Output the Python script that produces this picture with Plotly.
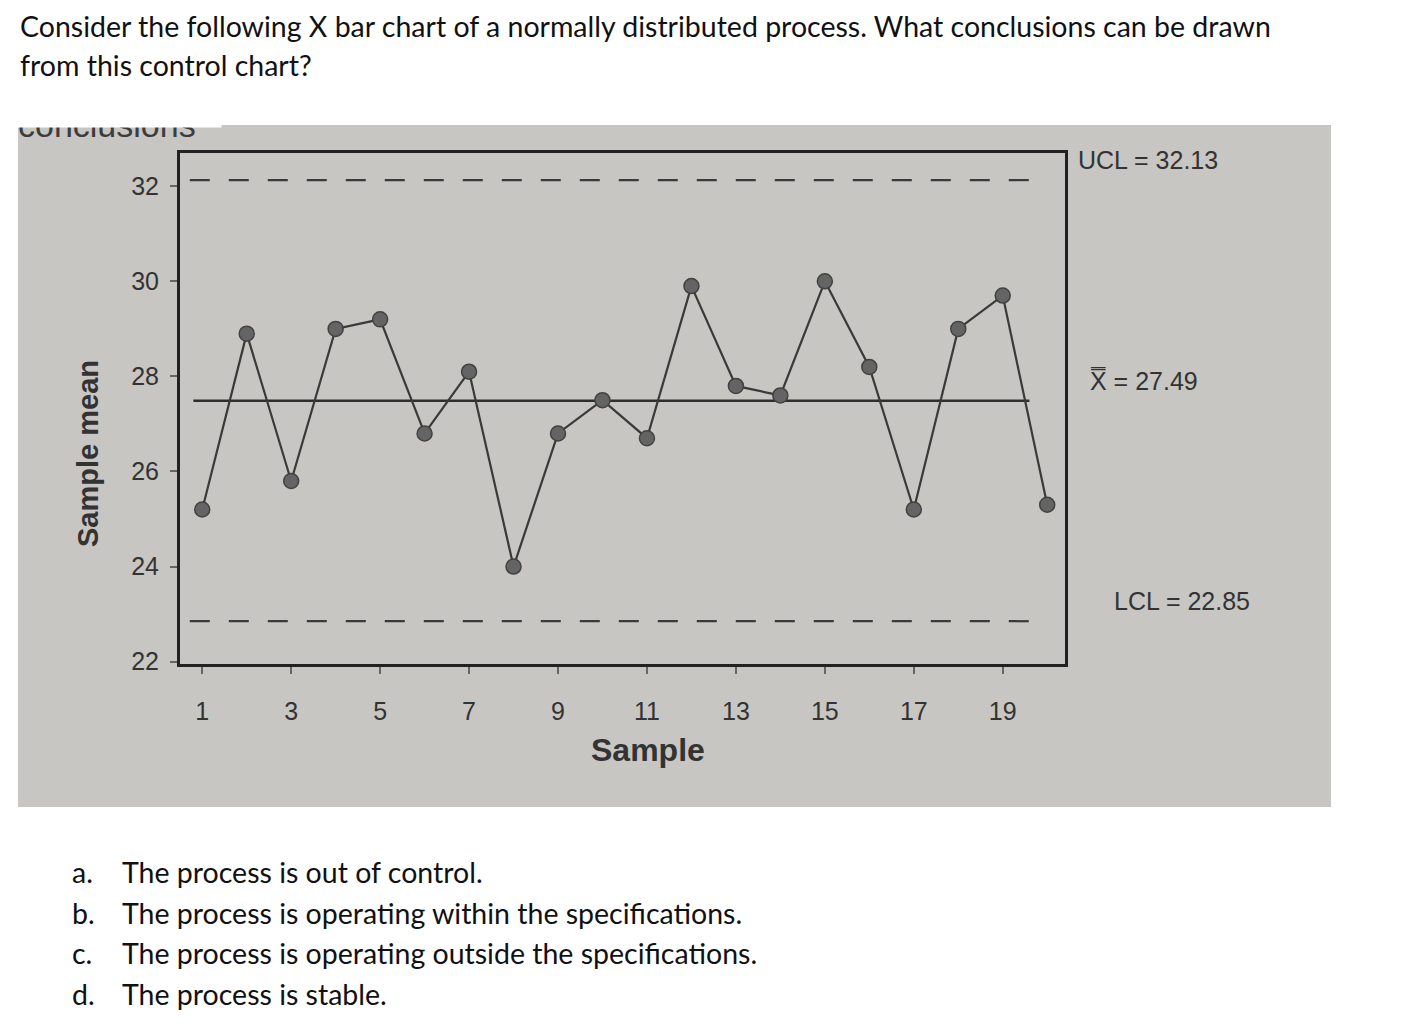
import plotly.graph_objects as go

# ---------------- data ----------------
samples = list(range(1, 21))
sample_means = [25.2, 28.9, 25.8, 29.0, 29.2, 26.8, 28.1, 24.0, 26.8, 27.5,
                26.7, 29.9, 27.8, 27.6, 30.0, 28.2, 25.2, 29.0, 29.7, 25.3]
ucl_value = 32.13
center_value = 27.49
lcl_value = 22.85
limit_span = [0.72, 19.95]
center_span = [0.8, 19.6]
x_tick_values = [1, 3, 5, 7, 9, 11, 13, 15, 17, 19]
y_tick_values = [22, 24, 26, 28, 30, 32]
x_range = [0.5, 20.4]
y_range = [21.95, 32.7]

question_lines = [
    "Consider the following X bar chart of a normally distributed process. What conclusions can be drawn",
    "from this control chart?",
]
answer_letters = ["a.", "b.", "c.", "d."]
answer_texts = [
    "The process is out of control.",
    "The process is operating within the specifications.",
    "The process is operating outside the specifications.",
    "The process is stable.",
]
x_title = "Sample"
y_title = "Sample mean"
ucl_label = "UCL = 32.13"
center_label = "X\u033F = 27.49"
lcl_label = "LCL = 22.85"

# ---------------- page geometry (page px; body margin of 8px compensated) ----------------
OFF = 8
W, H = 1405 - OFF, 1033 - OFF
L = 180 - OFF
T = 153 - OFF
R = W - (1065 - OFF)
B = H - (664 - OFF)
PW = W - L - R
PH = H - T - B


def px(X):
    return (X - OFF - L) / PW


def py(Y):
    return (H - B - (Y - OFF)) / PH


chart_font = "Liberation Sans, Arial, sans-serif"
text_font = "Lato, Open Sans, sans-serif"
ink = "#333333"

fig = go.Figure()

# control limits and centre line
fig.add_trace(go.Scatter(x=limit_span, y=[ucl_value, ucl_value], mode="lines",
                         line=dict(color="#3a3a3a", width=2.2, dash="20px,19px"),
                         hoverinfo="skip", showlegend=False))
fig.add_trace(go.Scatter(x=limit_span, y=[lcl_value, lcl_value], mode="lines",
                         line=dict(color="#3a3a3a", width=2.2, dash="20px,19px"),
                         hoverinfo="skip", showlegend=False))
fig.add_trace(go.Scatter(x=center_span, y=[center_value, center_value], mode="lines",
                         line=dict(color="#2e2e2e", width=2.5),
                         hoverinfo="skip", showlegend=False))

# sample means
fig.add_trace(go.Scatter(x=samples, y=sample_means, mode="lines+markers",
                         line=dict(color="#3a3a3a", width=2.2),
                         marker=dict(size=15, color="#646464",
                                     line=dict(color="#424242", width=1.5)),
                         showlegend=False))

shapes = [
    # photo background
    dict(type="rect", xref="paper", yref="paper", x0=px(18), x1=px(1331),
         y0=py(807), y1=py(125), fillcolor="rgb(199,198,194)",
         line=dict(width=0), layer="below"),
]

annotations = []
# truncated word at the top edge of the photo
annotations.append(dict(xref="paper", yref="paper", x=px(16), y=py(146),
                        xanchor="left", yanchor="bottom", showarrow=False,
                        text="conclusions", font=dict(family=chart_font, size=34,
                                                      color="#3c3c3c")))
# white strip hiding the upper part of that word (cropped photo edge)
annotations.append(dict(xref="paper", yref="paper", x=px(8), y=py(128),
                        xanchor="left", yanchor="bottom", showarrow=False,
                        text=" ", width=210, height=34, bgcolor="white",
                        font=dict(size=10)))

for i, line in enumerate(question_lines):
    annotations.append(dict(xref="paper", yref="paper", x=px(18), y=py(26 + 39 * i),
                            xanchor="left", yanchor="middle", showarrow=False,
                            text=line, font=dict(family=text_font, size=28.5, color="#111111")))

for i, (letter, txt) in enumerate(zip(answer_letters, answer_texts)):
    yy = py(872 + 40.7 * i)
    annotations.append(dict(xref="paper", yref="paper", x=px(70), y=yy,
                            xanchor="left", yanchor="middle", showarrow=False,
                            text=letter, font=dict(family=text_font, size=28.5, color="#111111")))
    annotations.append(dict(xref="paper", yref="paper", x=px(120), y=yy,
                            xanchor="left", yanchor="middle", showarrow=False,
                            text=txt, font=dict(family=text_font, size=28.5, color="#111111")))

# axis titles
annotations.append(dict(xref="paper", yref="paper", x=px(648), y=py(750),
                        xanchor="center", yanchor="middle", showarrow=False,
                        text="<b>" + x_title + "</b>",
                        font=dict(family=chart_font, size=32, color=ink)))
annotations.append(dict(xref="paper", yref="paper", x=px(88), y=py(454),
                        xanchor="center", yanchor="middle", showarrow=False, textangle=-90,
                        text="<b>" + y_title + "</b>",
                        font=dict(family=chart_font, size=29, color=ink)))

# limit labels
for lbl, val, xx in [(ucl_label, ucl_value, 1076), (center_label, center_value, 1088),
                     (lcl_label, lcl_value, 1112)]:
    annotations.append(dict(xref="paper", yref="y", x=px(xx), y=val, yshift=20,
                            xanchor="left", yanchor="middle", showarrow=False,
                            text=lbl, font=dict(family=chart_font, size=25, color=ink)))

fig.update_layout(
    width=W, height=H,
    margin=dict(l=L, r=R, t=T, b=B, autoexpand=False),
    paper_bgcolor="white",
    plot_bgcolor="rgb(204,204,200)",
    shapes=shapes,
    annotations=annotations,
    font=dict(family=chart_font, color=ink),
)

fig.update_xaxes(range=x_range, tickvals=x_tick_values, ticks="outside", ticklen=7,
                 tickcolor="#666666", tickwidth=1.5, ticklabelstandoff=16,
                 showline=True, linecolor="#222222", linewidth=3, mirror=True,
                 showgrid=False, zeroline=False,
                 tickfont=dict(size=25, color=ink))
fig.update_yaxes(range=y_range, tickvals=y_tick_values, ticks="outside", ticklen=7,
                 tickcolor="#666666", tickwidth=1.5, ticklabelstandoff=6,
                 showline=True, linecolor="#222222", linewidth=3, mirror=True,
                 showgrid=False, zeroline=False,
                 tickfont=dict(size=25, color=ink))

fig.write_html("out.html")
